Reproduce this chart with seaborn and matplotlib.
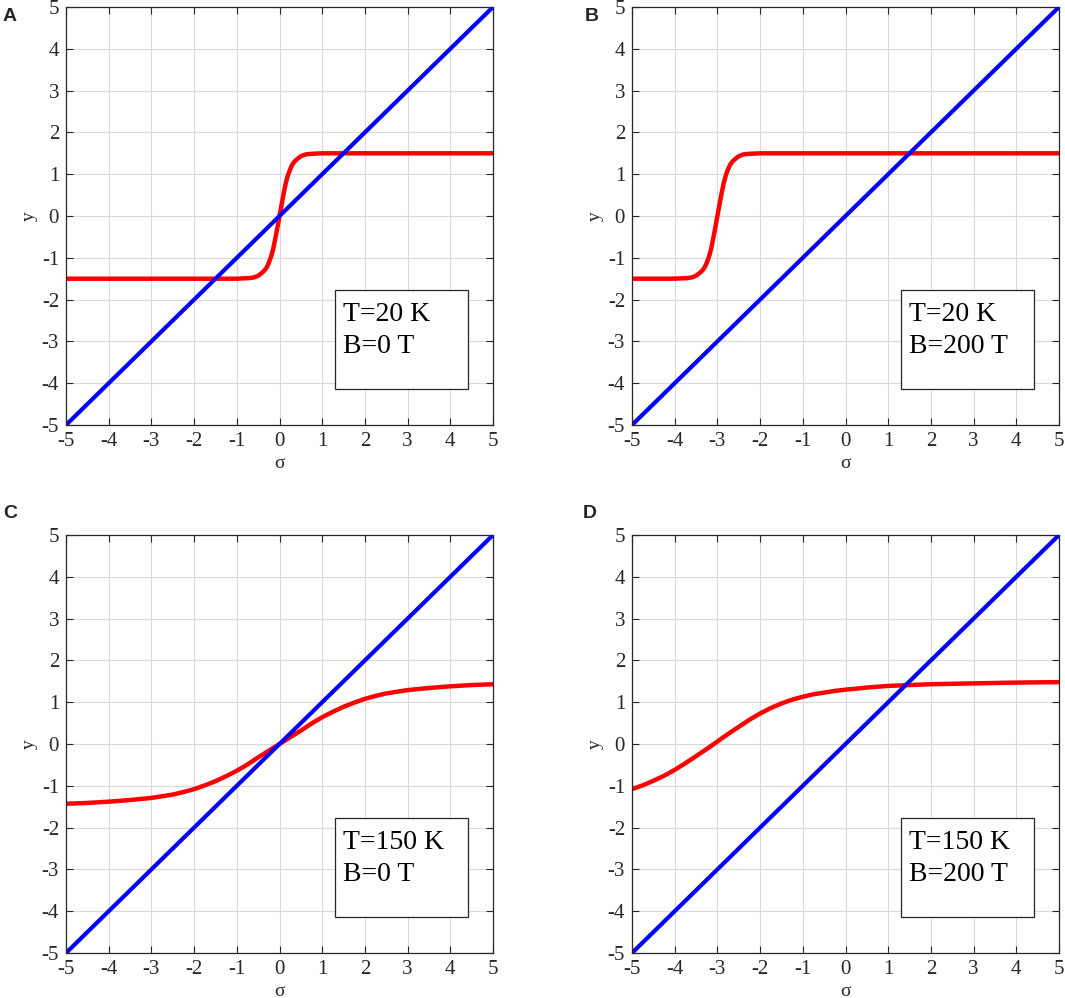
import numpy as np
import pandas as pd
import matplotlib
matplotlib.use("Agg")
import matplotlib.pyplot as plt
from matplotlib.patches import Rectangle
import seaborn as sns

# values
sigma_a = [-5, -2, -1, -0.8, -0.7, -0.6, -0.5, -0.4, -0.35, -0.3, -0.25, -0.2, -0.15, -0.1, -0.05, 0,
           0.05, 0.1, 0.15, 0.2, 0.25, 0.3, 0.35, 0.4, 0.5, 0.6, 0.7, 0.8, 1, 2, 5]
y_a = [-1.5, -1.5, -1.5, -1.49, -1.485, -1.47, -1.43, -1.35, -1.30, -1.23, -1.12, -0.98, -0.80, -0.55, -0.28, 0,
       0.28, 0.55, 0.80, 0.98, 1.12, 1.23, 1.30, 1.35, 1.43, 1.47, 1.485, 1.49, 1.5, 1.5, 1.5]

sigma_b = [-5, -4.5, -4, -3.8, -3.7, -3.6, -3.5, -3.4, -3.35, -3.3, -3.25, -3.2, -3.15, -3.1, -3.05, -3,
           -2.95, -2.9, -2.85, -2.8, -2.75, -2.7, -2.65, -2.6, -2.5, -2.4, -2.3, -2.2, -2, 0, 5]
y_b = [-1.5, -1.5, -1.5, -1.49, -1.485, -1.47, -1.43, -1.35, -1.30, -1.23, -1.12, -0.98, -0.80, -0.55, -0.28, 0,
       0.28, 0.55, 0.80, 0.98, 1.12, 1.23, 1.30, 1.35, 1.43, 1.47, 1.485, 1.49, 1.5, 1.5, 1.5]

sigma_c = [-5, -4.5, -4, -3.5, -3, -2.75, -2.5, -2.25, -2, -1.75, -1.5, -1.25, -1, -0.75, -0.5, -0.25, 0,
           0.25, 0.5, 0.75, 1, 1.25, 1.5, 1.75, 2, 2.25, 2.5, 2.75, 3, 3.5, 4, 4.5, 5]
y_c = [-1.43, -1.41, -1.38, -1.34, -1.29, -1.25, -1.21, -1.15, -1.08, -0.99, -0.89, -0.77, -0.64, -0.49, -0.32, -0.16, 0,
       0.16, 0.32, 0.49, 0.64, 0.77, 0.89, 0.99, 1.08, 1.15, 1.21, 1.25, 1.29, 1.34, 1.38, 1.41, 1.43]

sigma_d = [-5, -4.75, -4.5, -4.25, -4, -3.75, -3.5, -3.25, -3, -2.75, -2.5, -2.25, -2, -1.75,
           -1.5, -1.25, -1, -0.75, -0.5, -0.25, 0, 0.5, 1, 1.5, 2, 3, 4, 5]
y_d = [-1.08, -0.99, -0.88, -0.76, -0.62, -0.46, -0.29, -0.12, 0.06, 0.24, 0.41, 0.58, 0.73, 0.86,
       0.97, 1.06, 1.13, 1.19, 1.23, 1.27, 1.30, 1.35, 1.39, 1.41, 1.43, 1.45, 1.47, 1.48]

# blue reference line y = sigma
line_x = [-5, 5]
line_y = [-5, 5]

panel_letters = ["A", "B", "C", "D"]
temps = ["T=20 K", "T=20 K", "T=150 K", "T=150 K"]
fields = ["B=0 T", "B=200 T", "B=0 T", "B=200 T"]
curves = [(sigma_a, y_a), (sigma_b, y_b), (sigma_c, y_c), (sigma_d, y_d)]
ticks = [-5, -4, -3, -2, -1, 0, 1, 2, 3, 4, 5]

sns.set_style("ticks")
plt.rcParams['font.family'] = ['Liberation Serif', 'DejaVu Serif']
plt.rcParams['axes.unicode_minus'] = False

W, H = 1065, 998
fig = plt.figure(figsize=(W / 100, H / 100), dpi=100)

# axes boxes in pixels: left, top
boxes = [(66, 7), (632, 7), (66, 535), (632, 535)]
aw, ah = 427, 418
letter_pos = [(3, 8), (585, 8), (3, 505), (583, 505)]

for i in range(4):
    left, top = boxes[i]
    ax = fig.add_axes([left / W, 1 - (top + ah) / H, aw / W, ah / H])
    xs, ys = curves[i]
    df = pd.DataFrame({"sigma": xs, "y": ys})
    sns.lineplot(data=df, x="sigma", y="y", ax=ax, color="#ff0000", linewidth=3.2,
                 sort=False, estimator=None, solid_capstyle="butt")
    sns.lineplot(x=line_x, y=line_y, ax=ax, color="#0000ff", linewidth=3.0,
                 sort=False, estimator=None)
    ax.set_xlim(-5, 5)
    ax.set_ylim(-5, 5)
    ax.set_xticks(ticks)
    ax.set_yticks(ticks)
    ax.grid(True, color="#dadada", linewidth=0.8)
    ax.set_axisbelow(True)
    ax.tick_params(direction="in", length=5, width=0.8, top=True, right=True,
                   labelsize=15, colors="#262626", pad=5)
    for s in ax.spines.values():
        s.set_color("#262626")
        s.set_linewidth(0.9)
    ax.set_xlabel("σ", fontsize=14, color="#262626", labelpad=3)
    ax.set_ylabel("y", fontsize=14, color="#262626", labelpad=3)

    ax.add_patch(Rectangle((0.63, 0.087), 0.312, 0.235, transform=ax.transAxes,
                           facecolor="white", edgecolor="#262626", linewidth=0.9, zorder=5))
    ax.text(0.649, 0.249, temps[i], transform=ax.transAxes, fontsize=20,
            color="black", zorder=6)
    ax.text(0.649, 0.173, fields[i], transform=ax.transAxes, fontsize=20,
            color="black", zorder=6)

    lx, ly = letter_pos[i]
    fig.text(lx / W, 1 - ly / H, panel_letters[i], fontsize=14, fontweight="bold",
             family=["Liberation Sans", "DejaVu Sans"], va="top", ha="left")

plt.savefig("out.png", dpi=100)
